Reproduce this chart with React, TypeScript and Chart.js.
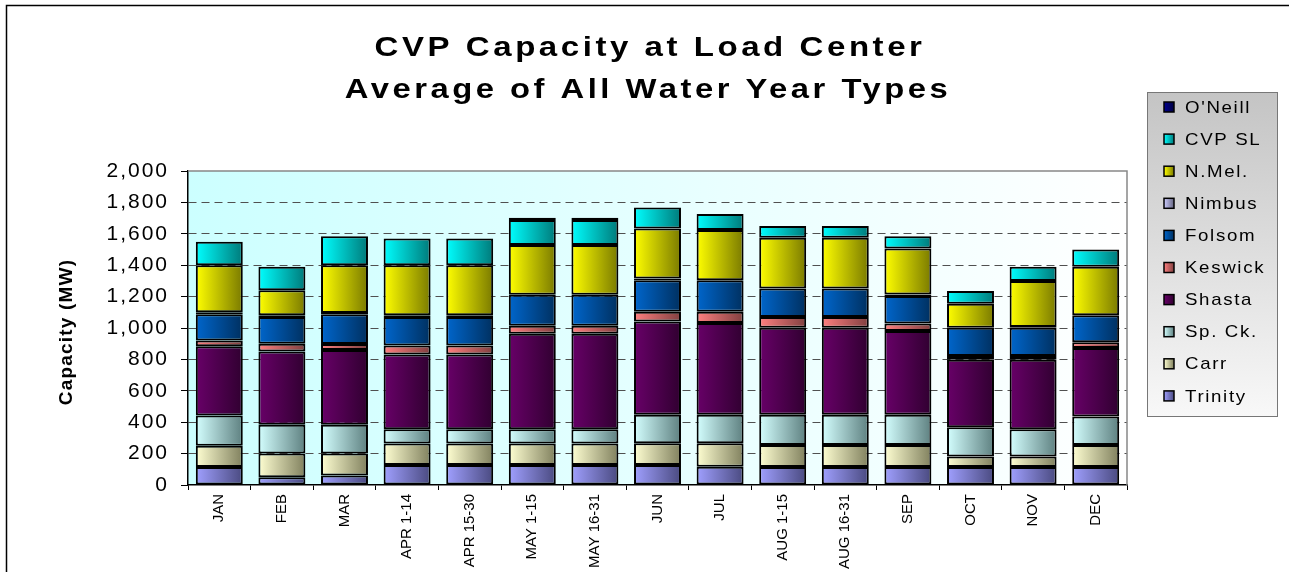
import React, { useEffect, useRef } from "react";
import { Chart, registerables } from "chart.js";

Chart.register(...registerables);

const categories = [
  "JAN", "FEB", "MAR", "APR 1-14", "APR 15-30", "MAY 1-15", "MAY 16-31",
  "JUN", "JUL", "AUG 1-15", "AUG 16-31", "SEP", "OCT", "NOV", "DEC",
];

const trinity = [115, 50, 60, 128, 128, 128, 128, 128, 117, 115, 115, 115, 115, 115, 115];
const carr = [135, 150, 140, 137, 137, 137, 137, 138, 149, 140, 140, 140, 66, 66, 140];
const spCk = [193, 183, 183, 90, 90, 90, 90, 181, 181, 192, 192, 192, 187, 174, 181];
const shasta = [440, 468, 477, 477, 477, 609, 609, 594, 585, 555, 555, 534, 430, 443, 436];
const keswick = [38, 49, 38, 57, 57, 51, 51, 63, 72, 68, 68, 47, 23, 23, 37];
const folsom = [166, 170, 189, 181, 181, 196, 196, 200, 200, 181, 181, 176, 181, 181, 172];
const nimbus = [13, 11, 9, 11, 11, 0, 0, 11, 0, 0, 0, 9, 0, 5, 0];
const nMel = [300, 159, 304, 319, 319, 317, 317, 319, 320, 324, 324, 294, 153, 293, 309];
const cvpSL = [150, 150, 185, 170, 170, 160, 160, 134, 102, 74, 74, 78, 81, 90, 110];
const oNeill = [0, 0, 0, 0, 0, 14, 14, 0, 0, 0, 0, 0, 0, 0, 0];

const yTicks = [0, 200, 400, 600, 800, 1000, 1200, 1400, 1600, 1800, 2000];

const titleLines = ["CVP Capacity at Load Center", "Average of All Water Year Types"];
const yTitle = "Capacity (MW)";

const W = 1289;
const H = 572;
const PLOT = { left: 188, right: 1127, top: 171, bottom: 485 };
const BAR_PCT = 0.75;
const FONT = "Arial, 'Liberation Sans', sans-serif";

const seriesDefs = [
  { label: "Trinity", data: trinity, light: "#a0a0ff", dark: "#4a4a80" },
  { label: "Carr", data: carr, light: "#ffffd2", dark: "#80805e" },
  { label: "Sp. Ck.", data: spCk, light: "#d4ffff", dark: "#5e8080" },
  { label: "Shasta", data: shasta, light: "#680068", dark: "#300030" },
  { label: "Keswick", data: keswick, light: "#ff8080", dark: "#804040" },
  { label: "Folsom", data: folsom, light: "#0066cc", dark: "#003060" },
  { label: "Nimbus", data: nimbus, light: "#ccccff", dark: "#666680" },
  { label: "N.Mel.", data: nMel, light: "#ffff00", dark: "#7a7a00" },
  { label: "CVP SL", data: cvpSL, light: "#00ffff", dark: "#007a7a" },
  { label: "O'Neill", data: oNeill, light: "#000090", dark: "#000040" },
];

function gradientFor(light: string, dark: string) {
  return (ctx: any) => {
    const chart = ctx.chart;
    const xs = chart.scales && chart.scales.x;
    const area = chart.chartArea;
    if (!xs || !area || ctx.type !== "data") return light;
    const cx = xs.getPixelForValue(ctx.dataIndex);
    const w = ((area.right - area.left) / categories.length) * BAR_PCT;
    const g = chart.ctx.createLinearGradient(cx - w / 2, 0, cx + w / 2, 0);
    g.addColorStop(0, light);
    g.addColorStop(1, dark);
    return g;
  };
}

function stretchedText(ctx: any, text: string, x: number, y: number, sx: number) {
  ctx.save();
  ctx.translate(x, y);
  ctx.scale(sx, 1);
  ctx.fillText(text, 0, 0);
  ctx.restore();
}

const customPlugin = {
  id: "custom",
  beforeDraw(chart: any) {
    const ctx = chart.ctx;
    const a = chart.chartArea;
    ctx.save();
    const g = ctx.createLinearGradient(a.left, a.top, a.right, a.top);
    g.addColorStop(0, "#ccffff");
    g.addColorStop(1, "#ffffff");
    ctx.fillStyle = g;
    ctx.fillRect(a.left, a.top, a.right - a.left, a.bottom - a.top);
    ctx.restore();
    (ctx as any).letterSpacing = "2px";
  },
  beforeDatasetsDraw(chart: any) {
    const ctx = chart.ctx;
    const a = chart.chartArea;
    ctx.save();
    (ctx as any).letterSpacing = "0px";
    ctx.strokeStyle = "#888888";
    ctx.lineWidth = 1.5;
    ctx.beginPath();
    ctx.moveTo(a.left, a.top);
    ctx.lineTo(a.right, a.top);
    ctx.lineTo(a.right, a.bottom);
    ctx.stroke();
    ctx.restore();
  },
  afterDatasetsDraw(chart: any) {
    (chart.ctx as any).letterSpacing = "0px";
  },
  afterDraw(chart: any) {
    const ctx = chart.ctx;
    ctx.save();
    // outer frame
    ctx.strokeStyle = "#000";
    ctx.lineWidth = 1.5;
    (ctx as any).letterSpacing = "0px";
    ctx.strokeRect(6.5, 5.5, W + 20, H + 20);

    // title
    ctx.fillStyle = "#000";
    ctx.font = `bold 28px ${FONT}`;
    (ctx as any).letterSpacing = "3px";
    ctx.textAlign = "center";
    ctx.textBaseline = "middle";
    stretchedText(ctx, titleLines[0], 650, 48, 1.18);
    stretchedText(ctx, titleLines[1], 648, 90, 1.17);

    // y title
    ctx.save();
    ctx.translate(67, 332);
    ctx.rotate(-Math.PI / 2);
    ctx.font = `bold 19px ${FONT}`;
    (ctx as any).letterSpacing = "1.2px";
    ctx.fillText(yTitle, 0, 0);
    ctx.restore();

    // legend
    const lx = 1147, ly = 92, lw = 130, lh = 324;
    const lg = ctx.createLinearGradient(0, ly, 0, ly + lh);
    lg.addColorStop(0, "#c4c4c4");
    lg.addColorStop(1, "#f8f8f8");
    ctx.fillStyle = lg;
    ctx.fillRect(lx, ly, lw, lh);
    ctx.strokeStyle = "#777";
    ctx.lineWidth = 1;
    ctx.strokeRect(lx + 0.5, ly + 0.5, lw, lh);
    const items = [...chart.data.datasets].reverse();
    ctx.font = `17px ${FONT}`;
    (ctx as any).letterSpacing = "1.5px";
    ctx.textAlign = "left";
    items.forEach((ds: any, i: number) => {
      const cy = 107 + i * 32.1;
      const def = seriesDefs.find((s) => s.label === ds.label)!;
      const sg = ctx.createLinearGradient(1164, 0, 1174, 0);
      sg.addColorStop(0, def.light);
      sg.addColorStop(1, def.dark);
      ctx.fillStyle = sg;
      ctx.fillRect(1164, cy - 5, 10, 10);
      ctx.strokeStyle = "#000";
      ctx.lineWidth = 1.5;
      ctx.strokeRect(1164, cy - 5, 10, 10);
      ctx.fillStyle = "#000";
      stretchedText(ctx, ds.label, 1185, cy + 1, 1.1);
    });
    ctx.restore();
    (ctx as any).letterSpacing = "0px";
  },
};

export default function App() {
  const ref = useRef<HTMLCanvasElement>(null);
  useEffect(() => {
    const canvas = ref.current!;
    const datasets = seriesDefs.map((s) => ({
      label: s.label,
      data: s.data.map((v) => (v > 0 ? v : null)),
      backgroundColor: gradientFor(s.light, s.dark),
      borderColor: "#000",
      borderWidth: 2,
      borderSkipped: false as const,
      categoryPercentage: 1,
      barPercentage: BAR_PCT,
    }));
    const chart = new Chart(canvas, {
      type: "bar",
      data: { labels: categories, datasets },
      options: {
        responsive: false,
        animation: false,
        events: [],
        layout: { padding: { top: PLOT.top, right: W - PLOT.right, left: 0, bottom: 0 } },
        plugins: {
          legend: { display: false },
          title: { display: false },
          tooltip: { enabled: false },
        },
        scales: {
          x: {
            stacked: true,
            grid: {
              display: true,
              drawOnChartArea: false,
              offset: true,
              tickLength: 5,
              tickColor: "#000",
              color: "#000",
            },
            border: { color: "#000", width: 1.5 },
            ticks: {
              minRotation: 90,
              maxRotation: 90,
              autoSkip: false,
              padding: 4,
              color: "#000",
              font: { size: 15, family: FONT },
              z: 1,
            },
            afterFit: (s: any) => {
              s.height = H - PLOT.bottom;
            },
          },
          y: {
            stacked: true,
            min: 0,
            max: 2000,
            afterBuildTicks: (s: any) => {
              s.ticks = yTicks.map((v) => ({ value: v }));
            },
            ticks: {
              callback: (v: any) => Number(v).toLocaleString("en-US"),
              padding: 12,
              color: "#000",
              font: { size: 21, family: FONT },
            },
            grid: {
              color: (c: any) =>
                c.tick && (c.tick.value === 0 || c.tick.value === 2000) ? "rgba(0,0,0,0)" : "#505050",
              tickColor: "#000",
              tickLength: 7,
              lineWidth: 1,
            },
            border: { color: "#000", width: 1.5, dash: [8, 5] },
            afterFit: (s: any) => {
              s.width = PLOT.left;
            },
          },
        },
      },
      plugins: [customPlugin],
    });
    return () => chart.destroy();
  }, []);
  return (
    <div style={{ position: "absolute", left: 0, top: 0, width: W, height: H }}>
      <canvas ref={ref} width={W} height={H} style={{ display: "block" }} />
    </div>
  );
}
